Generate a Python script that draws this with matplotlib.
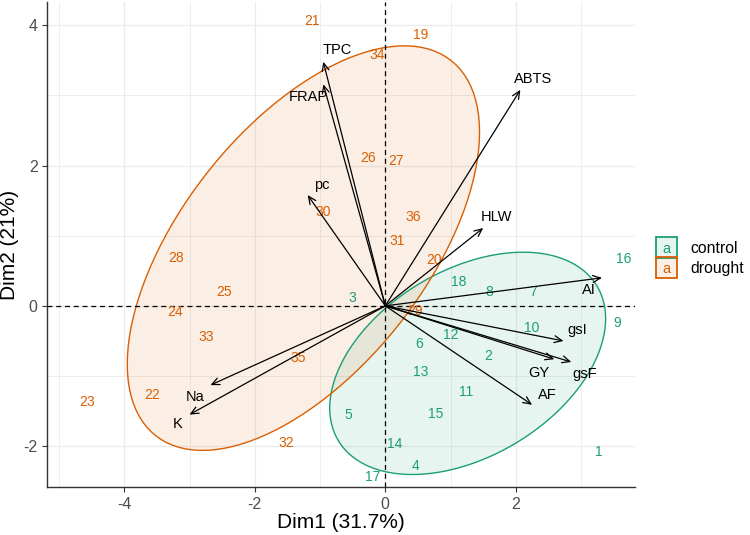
import numpy as np
import matplotlib.pyplot as plt
from matplotlib.colors import to_rgb
from matplotlib.patches import Rectangle, Patch, Polygon
from matplotlib.legend_handler import HandlerBase
from matplotlib.text import Text

plt.rcParams["font.family"] = ["Liberation Sans", "DejaVu Sans"]

# --- individuals: control (1-18) ---
ctrl_ids = [str(i) for i in range(1, 19)]
ctrl_x = [3.27, 1.57, -0.50, 0.46, -0.57, 0.52, 2.27, 1.60, 3.55,
          2.25, 1.24, 1.01, 0.54, 0.15, 0.77, 3.65, -0.19, 1.13]
ctrl_y = [-2.09, -0.72, 0.11, -2.28, -1.56, -0.54, 0.20, 0.20, -0.24,
          -0.31, -1.23, -0.41, -0.94, -1.97, -1.54, 0.67, -2.44, 0.34]

# --- individuals: drought (19-36) ---
drought_ids = [str(i) for i in range(19, 37)]
drought_x = [0.54, 0.74, -1.12, -3.58, -4.57, -3.22, -2.47, -0.26, 0.17,
             -3.21, 0.45, -0.95, 0.18, -1.52, -2.75, -0.12, -1.33, 0.43]
drought_y = [3.86, 0.66, 4.06, -1.27, -1.37, -0.09, 0.20, 2.11, 2.07,
             0.68, -0.08, 1.34, 0.93, -1.95, -0.44, 3.58, -0.74, 1.27]

# --- variables (arrow tips) ---
var_names = ["TPC", "FRAP", "pc", "ABTS", "HLW", "Na", "K",
             "AI", "gsI", "GY", "gsF", "AF"]
var_x = [-0.95, -0.95, -1.19, 2.07, 1.50, -2.68, -3.00,
         3.32, 2.73, 2.59, 2.85, 2.25]
var_y = [3.48, 3.16, 1.58, 3.08, 1.11, -1.13, -1.55,
         0.40, -0.50, -0.76, -0.80, -1.41]
# label nudges (repelled labels) relative to the arrow tips
var_nudge_x = [0.21, -0.23, 0.21, 0.20, 0.21, -0.23, -0.18,
               -0.20, 0.21, -0.24, 0.20, 0.23]
var_nudge_y = [0.17, -0.18, 0.14, 0.15, 0.15, -0.17, -0.13,
               -0.17, 0.16, -0.20, -0.17, 0.14]

groups = ["control", "drought"]
colors = {"control": "#1B9E77", "drought": "#D95F02"}

x_ticks = [-4, -2, 0, 2]
y_ticks = [-2, 0, 2, 4]


def ellipse_points(x, y, level=0.73, segments=121):
    # normal-theory ellipse from the group covariance
    xy = np.column_stack([x, y])
    center = xy.mean(axis=0)
    shape = np.cov(xy, rowvar=False)
    chol = np.linalg.cholesky(shape).T
    radius = np.sqrt(-2 * np.log(1 - level))
    ang = np.linspace(0, 2 * np.pi, segments)
    circ = np.column_stack([np.cos(ang), np.sin(ang)])
    return center + radius * (circ @ chol)


class LetterKey(HandlerBase):
    def create_artists(self, legend, orig_handle, xdescent, ydescent,
                       width, height, fontsize, trans):
        col = orig_handle.get_edgecolor()
        size = height + 3
        x0 = -xdescent + (width - size) / 2
        y0 = -ydescent + (height - size) / 2
        box = Rectangle((x0, y0), size, size, facecolor=orig_handle.get_facecolor(),
                        edgecolor=col, lw=1.3, transform=trans)
        txt = Text(x0 + size / 2, y0 + size / 2 - 1, "a", color=col,
                   ha="center", va="center", fontsize=10.5, transform=trans)
        return [box, txt]


fig = plt.figure(figsize=(7.5, 5.35), dpi=100)
ax = fig.add_axes([0.063, 0.09, 0.784, 0.906])

# ellipses
for g, xs, ys in [("control", ctrl_x, ctrl_y), ("drought", drought_x, drought_y)]:
    pts = ellipse_points(np.array(xs), np.array(ys))
    ax.add_patch(Polygon(pts, closed=True, facecolor=colors[g], alpha=0.1,
                         edgecolor="none", zorder=1))
    ax.add_patch(Polygon(pts, closed=True, facecolor="none",
                         edgecolor=colors[g], lw=1.0, zorder=2))

ax.axhline(0, color="black", ls=(0, (4, 3)), lw=0.9, zorder=2)
ax.axvline(0, color="black", ls=(0, (4, 3)), lw=0.9, zorder=2)

# individual labels
for ids, xs, ys, g in [(ctrl_ids, ctrl_x, ctrl_y, "control"),
                       (drought_ids, drought_x, drought_y, "drought")]:
    for lab, x, y in zip(ids, xs, ys):
        ax.text(x, y, lab, color=colors[g], fontsize=10,
                ha="center", va="center", zorder=3)

# variable arrows
for name, x, y, nx, ny in zip(var_names, var_x, var_y, var_nudge_x, var_nudge_y):
    ax.annotate("", xy=(x, y), xytext=(0, 0), zorder=4,
                arrowprops=dict(arrowstyle="->,head_length=0.55,head_width=0.25",
                                color="black", lw=0.9, shrinkA=0, shrinkB=0))
    ax.text(x + nx, y + ny, name, fontsize=10.5, ha="center", va="center",
            color="black", zorder=5)

ax.set_xlim(-5.18, 3.83)
ax.set_ylim(-2.58, 4.33)
ax.set_xticks(x_ticks, [str(t) for t in x_ticks])
ax.set_yticks(y_ticks, [str(t) for t in y_ticks])
ax.set_xticks([-5, -3, -1, 1, 3], minor=True)
ax.set_yticks([-1, 1, 3], minor=True)
ax.grid(which="major", color="#EBEBEB", lw=0.9, zorder=0)
ax.grid(which="minor", color="#EBEBEB", lw=0.6, zorder=0)
ax.set_axisbelow(True)
ax.tick_params(which="major", labelsize=11.5, labelcolor="#4D4D4D",
               color="#333333", length=3.5, width=0.8)
ax.tick_params(which="minor", length=0)
for s in ["top", "right"]:
    ax.spines[s].set_visible(False)
for s in ["left", "bottom"]:
    ax.spines[s].set_color("#333333")
    ax.spines[s].set_linewidth(1.0)

ax.set_xlabel("Dim1 (31.7%)", fontsize=15, labelpad=1)
ax.set_ylabel("Dim2 (21%)", fontsize=15, labelpad=3)

handles = [Patch(facecolor=(*to_rgb(colors[g]), 0.1), edgecolor=colors[g])
           for g in groups]
fig.legend(handles, groups, handler_map={Patch: LetterKey()},
           loc="center left", bbox_to_anchor=(0.865, 0.519), frameon=False,
           fontsize=11.3, handlelength=1.27, handleheight=1.27,
           labelspacing=0.2, handletextpad=0.9, borderpad=0)

fig.savefig("out.png", dpi=100)
